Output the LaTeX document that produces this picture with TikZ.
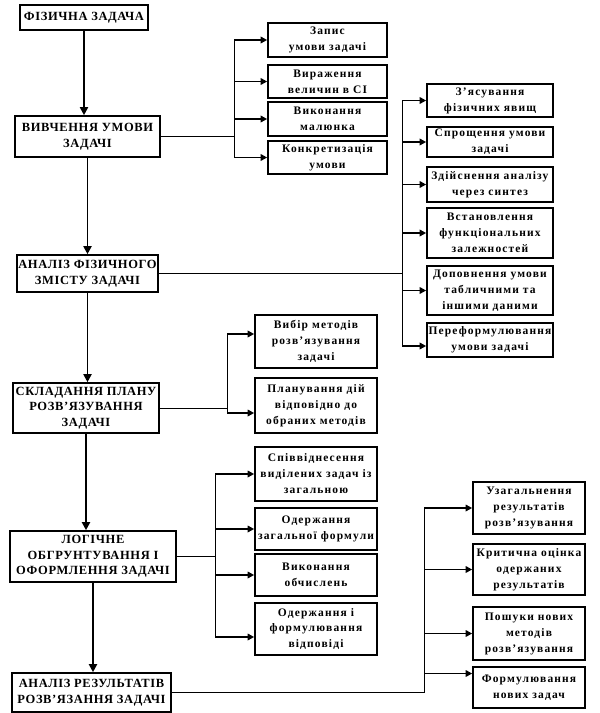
\documentclass[tikz,border=0pt]{standalone}
\usepackage{fontspec}
\setmainfont{Liberation Serif}
\newfontfamily\sidefont{Liberation Serif}[LetterSpace=10]
\newfontfamily\mainfont{Liberation Serif}[LetterSpace=5]
\usepackage{tikz}
\usetikzlibrary{arrows.meta}

\begin{document}
\begin{tikzpicture}[x=1pt, y=-1pt,
    mainbox/.style={draw, line width=1.6pt, fill=white, align=center, inner sep=1pt,
        font=\mainfont\bfseries\fontsize{12.5}{15.5}\selectfont},
    sidebox/.style={draw, line width=1.6pt, fill=white, align=center, inner sep=1pt,
        font=\sidefont\bfseries\fontsize{11.5}{16}\selectfont},
    mainarrow/.style={line width=1.8pt, -{Triangle[length=8pt, width=8pt]}},
    sidearrow/.style={line width=1.8pt, -{Triangle[length=6.5pt, width=6.5pt]}},
    bus/.style={line width=0.8pt}]

    \useasboundingbox (0,0) rectangle (600,713);

    \node[mainbox, minimum width=128, minimum height=25] (m1) at (84,17.5) {ФІЗИЧНА ЗАДАЧА};
    \node[mainbox, minimum width=145, minimum height=41] (m2) at (87.5,136.5) {ВИВЧЕННЯ УМОВИ\\ЗАДАЧІ};
    \node[mainbox, minimum width=141, minimum height=37] (m3) at (87.5,273.5) {АНАЛІЗ ФІЗИЧНОГО\\ЗМІСТУ ЗАДАЧІ};
    \node[mainbox, minimum width=146, minimum height=50] (m4) at (86,408) {СКЛАДАННЯ ПЛАНУ\\РОЗВ’ЯЗУВАННЯ\\ЗАДАЧІ};
    \node[mainbox, minimum width=166, minimum height=51] (m5) at (93,556.5) {ЛОГІЧНЕ\\ОБГРУНТУВАННЯ І\\ОФОРМЛЕННЯ ЗАДАЧІ};
    \node[mainbox, minimum width=159, minimum height=39] (m6) at (91.5,692.5) {АНАЛІЗ РЕЗУЛЬТАТІВ\\РОЗВ’ЯЗАННЯ ЗАДАЧІ};

    \draw[mainarrow] (m1.south) -- (m1.south |- m2.north);
    \draw[mainarrow] (m2.south) -- (m2.south |- m3.north);
    \draw[mainarrow] (m3.south) -- (m3.south |- m4.north);
    \draw[mainarrow] (m4.south) -- (m4.south |- m5.north);
    \draw[mainarrow] (m5.south) -- (m5.south |- m6.north);

    \foreach \nm/\cx/\cy/\w/\h/\txt in {
        s11/327.5/40/119/34/{Запис\\умови задачі},
        s12/327.5/81.5/119/33/{Вираження\\величин в СІ},
        s13/327.5/119/119/34/{Виконання\\малюнка},
        s14/327.5/157.5/119/33/{Конкретизація\\умови},
        s21/490/100.5/126/33/{З’ясування\\фізичних явищ},
        s22/490/142/126/30/{Спрощення умови\\задачі},
        s23/490/184.5/126/35/{Здійснення аналізу\\через синтез},
        s24/490/233/126/50/{Встановлення\\функціональних\\залежностей},
        s25/490/290.5/126/49/{Доповнення умови\\табличними та\\іншими даними},
        s26/490/340/126/34/{Переформулювання\\умови задачі},
        s41/316/341.5/122/53/{Вибір методів\\розв’язування\\задачі},
        s42/316/405.5/122/55/{Планування дій\\відповідно до\\обраних методів},
        s51/316/474/122/54/{Співвіднесення\\виділених задач із\\загальною},
        s52/316/529/122/42/{Одержання\\загальної формули},
        s53/316/575/122/42/{Виконання\\обчислень},
        s54/316/629/122/52/{Одержання і\\формулювання\\відповіді},
        s61/529/508/112/52/{Узагальнення\\результатів\\розв’язування},
        s62/529/569.5/112/51/{Критична оцінка\\одержаних\\результатів},
        s63/529/633.5/112/53/{Пошуки нових\\методів\\розв’язування},
        s64/529/687.5/112/41/{Формулювання\\нових задач}%
    } {
        \node[sidebox, minimum width=\w, minimum height=\h] (\nm) at (\cx,\cy) {\txt};
    }

    \coordinate (j1) at (234,0);
    \coordinate (j2) at (402,0);
    \coordinate (j4) at (227,0);
    \coordinate (j5) at (215,0);
    \coordinate (j6) at (424,0);

    \coordinate (a26) at ([yshift=-6pt]s26.west);
    \coordinate (a41) at ([yshift=7.5pt]s41.west);
    \coordinate (a42) at ([yshift=-7.5pt]s42.west);
    \coordinate (a54) at ([yshift=-8pt]s54.west);
    \coordinate (a64) at ([yshift=14pt]s64.west);

    \draw[bus] (m2.east) -- (j1 |- m2.east);
    \draw[bus] (j1 |- s11.west) -- (j1 |- s14.west);
    \foreach \s in {s11, s12, s13, s14}
        \draw[sidearrow] (j1 |- \s.west) -- (\s.west);

    \draw[bus] (m3.east) -- (j2 |- m3.east);
    \draw[bus] (j2 |- s21.west) -- (j2 |- a26);
    \foreach \s in {s21, s22, s23, s24, s25}
        \draw[sidearrow] (j2 |- \s.west) -- (\s.west);
    \draw[sidearrow] (j2 |- a26) -- (a26);

    \draw[bus] (m4.east) -- (j4 |- m4.east);
    \draw[bus] (j4 |- a41) -- (j4 |- a42);
    \draw[sidearrow] (j4 |- a41) -- (a41);
    \draw[sidearrow] (j4 |- a42) -- (a42);

    \draw[bus] (m5.east) -- (j5 |- m5.east);
    \draw[bus] (j5 |- s51.west) -- (j5 |- a54);
    \foreach \s in {s51, s52, s53}
        \draw[sidearrow] (j5 |- \s.west) -- (\s.west);
    \draw[sidearrow] (j5 |- a54) -- (a54);

    \draw[bus] (m6.east) -- (j6 |- m6.east);
    \draw[bus] (j6 |- s61.west) -- (j6 |- m6.east);
    \foreach \s in {s61, s62, s63}
        \draw[sidearrow] (j6 |- \s.west) -- (\s.west);
    \draw[sidearrow] (j6 |- a64) -- (a64);

\end{tikzpicture}
\end{document}
